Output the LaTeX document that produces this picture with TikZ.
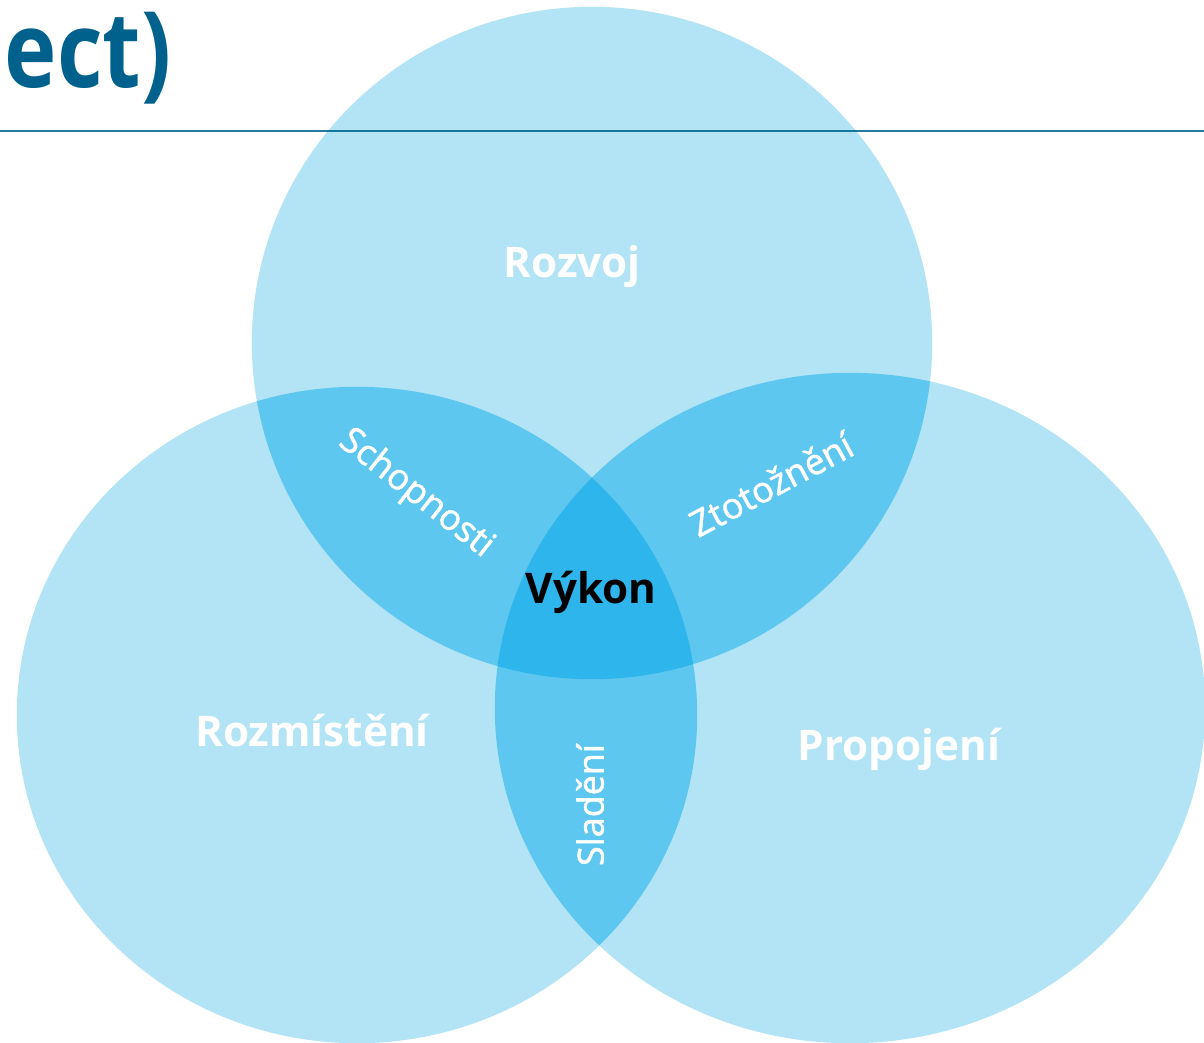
\documentclass[tikz,border=0pt]{standalone}
\usepackage{fontspec}
\setmainfont{Open Sans}
\newfontfamily\semifont{Open Sans}[FakeBold=1.4]
\usetikzlibrary{positioning}

\definecolor{vennlight}{HTML}{B2E4F6}
\definecolor{vennmid}{HTML}{5EC7EF}
\definecolor{venndark}{HTML}{2EB5EC}
\definecolor{titleblue}{HTML}{00628C}

\tikzset{
  toparea/.style={insert path={(592,343) ellipse [x radius=3.40cm, y radius=3.36cm]}},
  leftarea/.style={insert path={(357,715) ellipse [x radius=3.40cm, y radius=3.28cm]}},
  rightarea/.style={insert path={(850,708) ellipse [x radius=3.55cm, y radius=3.35cm]}},
  biglabel/.style={text=white, inner sep=0, anchor=base, font=\bfseries\fontsize{12}{14}\selectfont},
  smalllabel/.style={text=white, inner sep=0, font=\semifont\fontsize{10.2}{12}\selectfont}
}

\begin{document}
\begin{tikzpicture}[x=0.01cm, y=-0.01cm]
\useasboundingbox (0,0) rectangle (1204,1042);
\clip (0,0) rectangle (1204,1042);

% the three sets
\fill [vennlight, toparea];
\fill [vennlight, leftarea];
\fill [vennlight, rightarea];

% pairwise overlaps
\begin{scope}
  \clip [toparea];
  \fill [vennmid, leftarea];
  \fill [vennmid, rightarea];
\end{scope}
\begin{scope}
  \clip [leftarea];
  \fill [vennmid, rightarea];
\end{scope}

% all three
\begin{scope}
  \clip [toparea];
  \clip [leftarea];
  \fill [venndark, rightarea];
\end{scope}

% heading (narrowed a bit) and rule
\begin{scope}[shift={(172,87)}, xscale=0.84]
  \node (title) [anchor=base east, inner sep=0, text=titleblue, transform shape,
    font=\bfseries\fontsize{30}{34}\selectfont] at (0,0) {nect)};
\end{scope}
\coordinate (rule west) at (0,131);
\coordinate (rule east) at (1204,131);
\draw [titleblue, line width=0.4pt, draw opacity=0.85] (rule west) -- (rule east);

% labels
\node (rozvoj) [biglabel] at (572,277) {Rozvoj};
\node (rozmisteni) [biglabel] at (312,746) {Rozmístění};
\node (propojeni) [biglabel] at (899,760) {Propojení};
\node (vykon) [biglabel, text=black] at (591,603) {Výkon};
\node (schopnosti) [smalllabel, rotate=-38] at (416,494) {Schopnosti};
\node (ztotozneni) [smalllabel, rotate=28] at (771,484) {Ztotožnění};
\node (sladeni) [smalllabel, rotate=90] at (590,805) {Sladění};
\end{tikzpicture}
\end{document}
